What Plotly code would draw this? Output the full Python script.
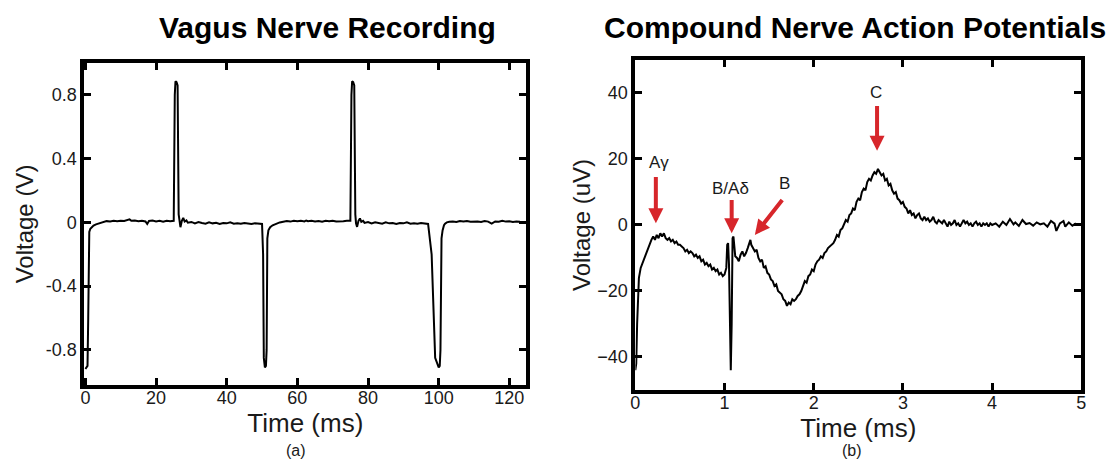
import plotly.graph_objects as go

# ---------------- Panel (a): Vagus nerve recording ----------------
vagus_t = [0.0, 0.3, 0.6, 0.8, 0.95, 1.1, 1.4, 1.8, 2.3, 3.0, 4.0, 5.0, 6.0, 7.0, 8.0, 9.0,
           10.0, 11.0, 12.0, 12.5, 13.0, 14.0, 15.0, 16.0, 17.0, 17.5, 18.0, 19.0, 20.0, 21.0,
           22.0, 23.0, 24.0, 25.0, 25.3, 25.5, 25.8, 26.1, 26.4, 26.6, 26.9, 27.3, 27.7, 28.1,
           28.6, 29.0, 30.0, 31.0, 32.0, 33.0, 34.0, 35.0, 36.0, 37.0, 38.0, 39.0, 40.0, 41.0,
           42.0, 43.0, 44.0, 45.0, 46.0, 47.0, 48.0, 49.0, 50.0, 50.3, 50.5, 50.8, 51.1, 51.3,
           51.5, 51.8, 52.3, 53.0, 54.0, 55.0, 56.0, 57.0, 58.0, 59.0, 60.0, 61.0, 62.0, 62.5,
           63.0, 64.0, 65.0, 66.0, 67.0, 68.0, 69.0, 70.0, 71.0, 72.0, 73.0, 74.0, 75.0, 75.3,
           75.5, 75.8, 76.1, 76.4, 76.6, 76.9, 77.3, 77.7, 78.1, 78.6, 79.0, 80.0, 81.0, 82.0,
           83.0, 84.0, 85.0, 86.0, 87.0, 88.0, 89.0, 90.0, 91.0, 92.0, 93.0, 94.0, 95.0, 96.0,
           97.0, 98.0, 99.0, 100.0, 100.3, 100.5, 100.8, 101.1, 101.3, 101.5, 101.8, 102.3,
           103.0, 104.0, 105.0, 106.0, 107.0, 108.0, 109.0, 110.0, 111.0, 112.0, 113.0, 114.0,
           115.0, 116.0, 117.0, 118.0, 119.0, 120.0, 121.0, 122.0, 123.0, 124.0, 125.0]
vagus_v = [-0.92, -0.91, -0.90, -0.60, -0.12, -0.06, -0.04, -0.03, -0.02, -0.012, -0.004, 0.004,
           0.008, 0.006, 0.010, 0.007, 0.011, 0.009, 0.014, 0.019, 0.010, 0.012, 0.008, 0.011,
           0.006, -0.010, 0.009, 0.012, 0.006, 0.010, 0.004, 0.010, 0.007, 0.010, 0.80, 0.885,
           0.88, 0.86, 0.05, -0.005, -0.030, 0.010, 0.028, 0.005, 0.012, -0.002, 0.003, -0.006,
           0.002, -0.004, -0.008, 0.000, -0.006, -0.003, -0.010, -0.004, -0.006, 0.000, -0.008,
           -0.005, -0.009, -0.004, -0.007, -0.010, -0.005, -0.008, -0.010, -0.20, -0.85, -0.91,
           -0.90, -0.80, -0.10, -0.05, -0.03, -0.018, -0.008, 0.000, 0.004, 0.008, 0.005, 0.010,
           0.007, 0.010, 0.006, 0.012, 0.008, 0.010, 0.006, 0.009, 0.004, 0.010, 0.007, 0.011,
           0.006, 0.009, 0.008, 0.010, 0.010, 0.80, 0.885, 0.88, 0.86, 0.05, -0.005, -0.028,
           0.010, 0.025, 0.004, 0.010, -0.003, 0.002, -0.006, 0.001, -0.004, -0.008, 0.000,
           -0.006, -0.004, -0.010, -0.004, -0.006, 0.000, -0.008, -0.005, -0.009, -0.004,
           -0.007, -0.010, -0.20, -0.85, -0.91, -0.90, -0.80, -0.10, -0.05, -0.03, -0.018,
           -0.008, 0.000, 0.004, 0.006, 0.003, 0.008, 0.005, 0.009, 0.004, 0.007, 0.006, 0.003,
           0.008, 0.005, -0.008, 0.006, 0.004, 0.010, 0.005, 0.007, 0.003, 0.006, 0.004]

# ---------------- Panel (b): Compound nerve action potentials ----------------
cnap_t = [0.00, 0.01, 0.02, 0.03, 0.04, 0.06, 0.08, 0.10, 0.12, 0.14, 0.16, 0.18, 0.20, 0.22,
          0.24, 0.26, 0.28, 0.30, 0.32, 0.34, 0.36, 0.38, 0.40, 0.42, 0.44, 0.46, 0.48, 0.50,
          0.52, 0.54, 0.56, 0.58, 0.60, 0.62, 0.64, 0.66, 0.68, 0.70, 0.72, 0.74, 0.76, 0.78,
          0.80, 0.82, 0.84, 0.86, 0.88, 0.90, 0.92, 0.94, 0.96, 0.98, 1.00, 1.02, 1.03, 1.04,
          1.05, 1.06, 1.07, 1.08, 1.09, 1.10, 1.11, 1.12, 1.14, 1.16, 1.18, 1.20, 1.22, 1.24,
          1.26, 1.28, 1.29, 1.30, 1.32, 1.34, 1.36, 1.38, 1.40, 1.42, 1.44, 1.46, 1.48, 1.50,
          1.52, 1.54, 1.56, 1.58, 1.60, 1.62, 1.64, 1.66, 1.68, 1.70, 1.72, 1.74, 1.76, 1.78,
          1.80, 1.82, 1.84, 1.86, 1.88, 1.90, 1.92, 1.94, 1.96, 1.98, 2.00, 2.02, 2.04, 2.06,
          2.08, 2.10, 2.12, 2.14, 2.16, 2.18, 2.20, 2.22, 2.24, 2.26, 2.28, 2.30, 2.32, 2.34,
          2.36, 2.38, 2.40, 2.42, 2.44, 2.46, 2.48, 2.50, 2.52, 2.54, 2.56, 2.58, 2.60, 2.62,
          2.64, 2.66, 2.68, 2.70, 2.72, 2.74, 2.76, 2.78, 2.80, 2.82, 2.84, 2.86, 2.88, 2.90,
          2.92, 2.94, 2.96, 2.98, 3.00, 3.02, 3.04, 3.06, 3.08, 3.10, 3.12, 3.14, 3.16, 3.18,
          3.20, 3.22, 3.24, 3.26, 3.28, 3.30, 3.32, 3.34, 3.36, 3.38, 3.40, 3.42, 3.44, 3.46,
          3.48, 3.50, 3.52, 3.54, 3.56, 3.58, 3.60, 3.62, 3.64, 3.66, 3.68, 3.70, 3.72, 3.74,
          3.76, 3.78, 3.80, 3.82, 3.84, 3.86, 3.88, 3.90, 3.92, 3.94, 3.96, 3.98, 4.00, 4.04,
          4.08, 4.12, 4.16, 4.20, 4.24, 4.26, 4.30, 4.34, 4.38, 4.42, 4.46, 4.50, 4.54, 4.58,
          4.62, 4.66, 4.70, 4.72, 4.76, 4.80, 4.82, 4.86, 4.90, 4.94, 4.98, 5.00]
cnap_v = [-44, -42, -30, -20, -16, -13, -11.5, -10.5, -9, -7.5, -6, -4.5, -3.5, -4.5,
          -3, -4, -2.5, -3.5, -2.5, -4, -4.5, -4, -5, -4.5, -5.5, -5, -6, -6,
          -6.5, -7, -8, -7.5, -8.5, -8, -8.5, -9.5, -9, -10, -9.5, -11, -10.5, -12,
          -11.5, -12.5, -12, -13.5, -13, -14, -13.5, -15, -14.5, -15.5, -15, -13, -6, -5.5,
          -12, -30, -44, -30, -4, -3.5, -8, -9.5, -10, -11, -9, -8, -9.5, -8.5,
          -7, -5, -4.5, -6, -7, -8, -7.5, -10, -11, -10.5, -13, -12.5, -14.5, -15,
          -16.5, -17, -18.5, -18, -20, -20.5, -21, -22.5, -23, -24.5, -23.5, -24, -22.5, -23,
          -22.5, -21.5, -21, -20, -18.5, -17, -17.5, -15.5, -15, -13.5, -14, -12, -11, -10.5,
          -9.5, -10, -8.5, -8, -7, -6.5, -6, -5.5, -4.5, -3, -3.5, -1.5, -1, 0.5,
          1.5, 1, 3, 3.5, 5, 4.5, 7, 8, 7.5, 10, 11, 10.5, 13, 14,
          13.5, 15, 16, 15.5, 17, 16, 15, 15.5, 13.5, 14, 12, 12.5, 10.5, 9.5,
          10, 8, 7.5, 6.5, 7, 5.5, 5, 3.5, 4.5, 3, 3.5, 2, 3, 3.5,
          2, 1.5, 2.5, 1.5, 2, 1, 1.5, 2.5, 1, 0.5, 1.5, 1, 0.5, 1.5,
          0.5, -0.5, 1, 0, 0.5, 1.5, 0, 0.5, -0.5, 0.5, 1.5, 0.5, 1, 0,
          0.5, -0.5, 0.5, 1, 0, 0.5, -0.5, 0.5, 0, 0.5, -0.5, 0.5, 0, 0.5,
          -0.5, 1, 0, 1.8, 0.2, 0.8, -0.3, 1.5, 0.3, 0.6, -0.2, 0.8, 0.2, 0.5,
          -0.5, 1.2, 0.4, -1.8, 0.5, 1.2, -0.5, 0.8, -0.2, 0.5]

arrow_labels = ["Aγ", "B/Aδ", "B", "C"]
arrow_tip_t = [0.23, 1.08, 1.34, 2.71]
arrow_tip_v = [0.5, -2.5, -3, 22.5]
arrow_tail_t = [0.23, 1.08, 1.66, 2.71]
arrow_tail_v = [15, 8, 8, 36.5]
label_t = [0.26, 1.07, 1.67, 2.70]
label_v = [19, 11, 12.5, 40]

FONT = "Liberation Sans, Arial, sans-serif"
TXT = "#1a1a1a"
RED = "#d7262b"

fig = go.Figure()
fig.add_trace(go.Scatter(x=vagus_t, y=vagus_v, mode="lines",
                         line=dict(color="black", width=2), xaxis="x", yaxis="y",
                         showlegend=False, hoverinfo="skip"))
fig.add_trace(go.Scatter(x=cnap_t, y=cnap_v, mode="lines",
                         line=dict(color="black", width=2), xaxis="x2", yaxis="y2",
                         showlegend=False, hoverinfo="skip"))

axis_common = dict(showgrid=False, zeroline=False, showline=True, linewidth=4,
                   linecolor="black", mirror="allticks", ticks="inside", ticklen=7,
                   tickwidth=3, tickcolor="black",
                   tickfont=dict(family=FONT, size=18, color=TXT))

xt_font = dict(family=FONT, size=26, color=TXT)
yt_font = dict(family=FONT, size=24, color=TXT)

fig.update_layout(
    width=1118, height=464,
    margin=dict(l=0, r=0, t=0, b=0),
    paper_bgcolor="white", plot_bgcolor="white",
    xaxis=dict(domain=[0.0716, 0.4705], range=[-0.3, 124.8], tickvals=[0, 20, 40, 60, 80, 100, 120],
               title=dict(text="Time (ms)", font=xt_font, standoff=0), ticklabelstandoff=-7,
               anchor="y", **axis_common),
    yaxis=dict(domain=[0.1703, 0.8642], range=[-1.02, 1.0], tickvals=[-0.8, -0.4, 0, 0.4, 0.8],
               ticktext=["-0.8", "-0.4", "0", "0.4", "0.8"],
               title=dict(text="Voltage (V)", font=yt_font, standoff=6),
               anchor="x", **axis_common),
    xaxis2=dict(domain=[0.5689, 0.9714], range=[0, 5], tickvals=[0, 1, 2, 3, 4, 5],
                title=dict(text="Time (ms)", font=xt_font, standoff=0), ticklabelstandoff=-7,
                anchor="y2", **axis_common),
    yaxis2=dict(domain=[0.1595, 0.8707], range=[-50, 50], tickvals=[-40, -20, 0, 20, 40],
                title=dict(text="Voltage (uV)", font=yt_font, standoff=1),
                anchor="x2", **axis_common),
)

annotations = [
    dict(text="<b>Vagus Nerve Recording</b>", x=0.2907, y=0.94, xref="paper", yref="paper",
         showarrow=False, font=dict(family=FONT, size=30, color="black"), xanchor="center", yanchor="middle"),
    dict(text="<b>Compound Nerve Action Potentials</b>", x=0.7675, y=0.94, xref="paper", yref="paper",
         showarrow=False, font=dict(family=FONT, size=30, color="black"), xanchor="center", yanchor="middle"),
    dict(text="(a)", x=0.263, y=0.030, xref="paper", yref="paper", showarrow=False,
         font=dict(family=FONT, size=16, color=TXT), xanchor="center", yanchor="middle"),
    dict(text="(b)", x=0.764, y=0.030, xref="paper", yref="paper", showarrow=False,
         font=dict(family=FONT, size=16, color=TXT), xanchor="center", yanchor="middle"),
]
for i in range(len(arrow_labels)):
    annotations.append(dict(x=arrow_tip_t[i], y=arrow_tip_v[i], ax=arrow_tail_t[i], ay=arrow_tail_v[i],
                            xref="x2", yref="y2", axref="x2", ayref="y2", text="", showarrow=True,
                            arrowhead=2, arrowsize=0.75, arrowwidth=4, arrowcolor=RED))
    annotations.append(dict(x=label_t[i], y=label_v[i], xref="x2", yref="y2", text=arrow_labels[i],
                            showarrow=False, font=dict(family=FONT, size=17, color=TXT),
                            xanchor="center", yanchor="middle"))
fig.update_layout(annotations=annotations)

fig.write_html("out.html")
